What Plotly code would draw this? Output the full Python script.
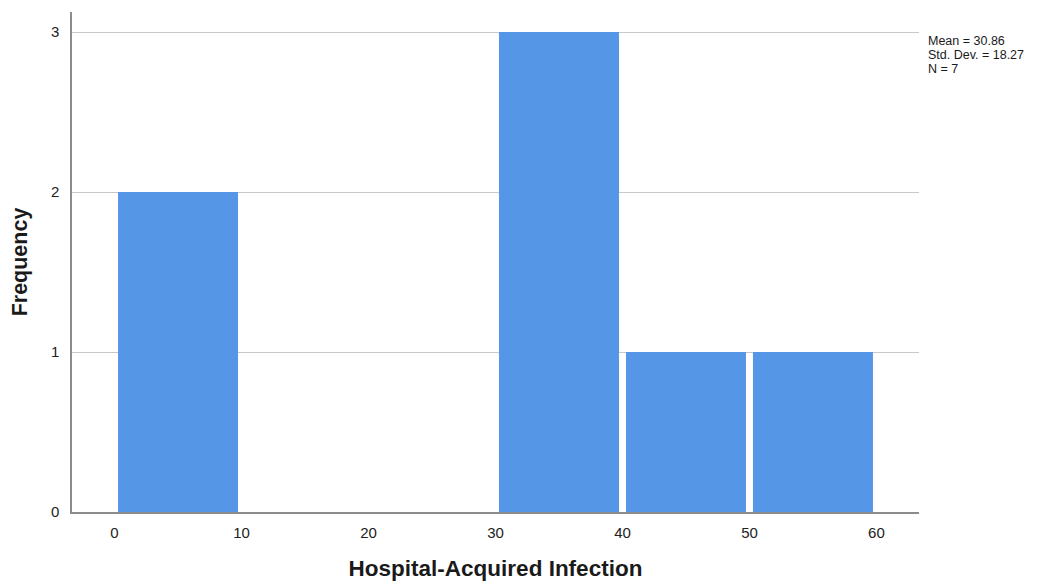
import plotly.graph_objects as go

bin_starts = [0, 10, 20, 30, 40, 50]
bin_width = 10
frequencies = [2, 0, 0, 3, 1, 1]
stats_text = ["Mean = 30.86", "Std. Dev. = 18.27", "N = 7"]
x_ticks = [0, 10, 20, 30, 40, 50, 60]
y_ticks = [0, 1, 2, 3]

centers = [s + bin_width / 2 for s in bin_starts]

fig = go.Figure()
fig.add_trace(go.Bar(
    x=centers, y=frequencies, width=bin_width * 0.945,
    marker=dict(color="#5596E6", line=dict(width=0)),
    hoverinfo="x+y",
))

font_family = "Liberation Sans, Arial, sans-serif"
# page body has an 8px margin, so the figure is sized/offset to compensate
fig.update_layout(
    width=1047, height=575,
    margin=dict(l=64, r=136, t=4, b=71, autoexpand=False),
    paper_bgcolor="white", plot_bgcolor="white",
    showlegend=False,
    font=dict(family=font_family, color="#1a1a1a"),
    xaxis=dict(
        range=[-3.35, 63.35], tickvals=x_ticks, showgrid=False, zeroline=False,
        showline=True, linecolor="#8c8c8c", linewidth=1.5,
        ticks="", ticklabelstandoff=6,
        tickfont=dict(size=15, family=font_family, color="#222222"),
        title=dict(text="<b>Hospital-Acquired Infection</b>", standoff=20,
                   font=dict(size=22.5, family=font_family, color="#1a1a1a")),
    ),
    yaxis=dict(
        range=[0, 3.125], tickvals=y_ticks, showgrid=True, gridcolor="#c8c8c8", gridwidth=1.2,
        zeroline=False, showline=True, linecolor="#8c8c8c", linewidth=1.5,
        ticks="", ticklabelstandoff=8,
        tickfont=dict(size=15, family=font_family, color="#222222"),
        title=dict(text="<b>Frequency</b>", standoff=25,
                   font=dict(size=21.5, family=font_family, color="#1a1a1a")),
    ),
)

for i, line in enumerate(stats_text):
    fig.add_annotation(
        xref="paper", yref="paper", x=1.0095, y=0.942 - 0.028 * i,
        xanchor="left", yanchor="middle", borderpad=0,
        text=line, align="left", showarrow=False,
        font=dict(size=12.5, family=font_family, color="#1a1a1a"),
    )

fig.write_html("out.html")
